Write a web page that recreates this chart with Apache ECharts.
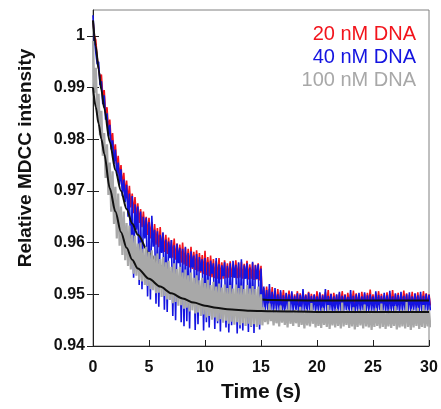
<!DOCTYPE html>
<html><head><meta charset="utf-8">
<script src="https://cdn.jsdelivr.net/npm/echarts@6/dist/echarts.min.js"></script>
<style>html,body{margin:0;padding:0;background:#fff}#chart{width:441px;height:409px}</style>
</head><body><div id="chart"></div>
<script>
// sampling step of the envelope arrays (s)
const timeStep = 0.25;

// 20 nM DNA trace: upper / lower extent of the noisy signal at each time step
const redHi = [
1.0030,0.9992,0.9958,0.9925,0.9895,0.9862,0.9838,0.9812,0.9790,0.9768,
0.9750,0.9735,0.9720,0.9710,0.9695,0.9688,0.9676,0.9665,0.9660,0.9650,
0.9648,0.9640,0.9636,0.9628,0.9630,0.9618,0.9615,0.9610,0.9605,0.9608,
0.9598,0.9596,0.9600,0.9590,0.9588,0.9592,0.9582,0.9585,0.9580,0.9576,
0.9584,0.9572,0.9575,0.9568,0.9565,0.9570,0.9562,0.9566,0.9560,0.9564,
0.9558,0.9566,0.9560,0.9563,0.9559,0.9565,0.9558,0.9561,0.9557,0.9560,
0.9555,0.9512,0.9515,0.9510,0.9514,0.9506,0.9510,0.9504,0.9508,0.9502,
0.9507,0.9503,0.9500,0.9506,0.9502,0.9504,0.9500,0.9505,0.9501,0.9499,
0.9506,0.9502,0.9500,0.9504,0.9508,0.9501,0.9503,0.9499,0.9502,0.9506,
0.9500,0.9503,0.9501,0.9507,0.9502,0.9499,0.9505,0.9501,0.9503,0.9509,
0.9500,0.9502,0.9506,0.9501,0.9498,0.9504,0.9502,0.9508,0.9500,0.9503,
0.9501,0.9507,0.9502,0.9499,0.9505,0.9501,0.9504,0.9500,0.9506,0.9502,
0.9500];
const redLo = [
1.0000,0.9958,0.9918,0.9882,0.9850,0.9820,0.9792,0.9768,0.9745,0.9725,
0.9708,0.9693,0.9680,0.9668,0.9657,0.9647,0.9638,0.9630,0.9622,0.9615,
0.9608,0.9602,0.9596,0.9591,0.9586,0.9582,0.9578,0.9574,0.9571,0.9567,
0.9564,0.9561,0.9558,0.9555,0.9552,0.9549,0.9547,0.9544,0.9542,0.9539,
0.9537,0.9535,0.9533,0.9531,0.9530,0.9529,0.9530,0.9531,0.9532,0.9533,
0.9532,0.9531,0.9532,0.9530,0.9531,0.9529,0.9530,0.9528,0.9529,0.9527,
0.9480,0.9478,0.9480,0.9477,0.9481,0.9478,0.9476,0.9480,0.9479,0.9477,
0.9481,0.9478,0.9480,0.9476,0.9479,0.9482,0.9477,0.9480,0.9478,0.9481,
0.9477,0.9479,0.9482,0.9478,0.9480,0.9476,0.9479,0.9481,0.9478,0.9480,
0.9477,0.9481,0.9479,0.9478,0.9482,0.9477,0.9480,0.9478,0.9481,0.9479,
0.9476,0.9480,0.9478,0.9481,0.9479,0.9477,0.9482,0.9478,0.9480,0.9477,
0.9481,0.9479,0.9478,0.9480,0.9476,0.9481,0.9479,0.9478,0.9482,0.9480,
0.9478];

// 40 nM DNA trace
const blueHi = [
1.0040,0.9990,0.9950,0.9912,0.9885,0.9850,0.9828,0.9798,0.9780,0.9755,
0.9742,0.9722,0.9712,0.9695,0.9690,0.9674,0.9670,0.9660,0.9650,0.9648,
0.9640,0.9652,0.9625,0.9622,0.9615,0.9620,0.9606,0.9602,0.9605,0.9595,
0.9598,0.9590,0.9588,0.9592,0.9580,0.9583,0.9575,0.9578,0.9572,0.9568,
0.9570,0.9562,0.9565,0.9560,0.9570,0.9558,0.9556,0.9562,0.9555,0.9560,
0.9565,0.9557,0.9562,0.9568,0.9556,0.9560,0.9552,0.9563,0.9556,0.9558,
0.9550,0.9515,0.9508,0.9520,0.9505,0.9512,0.9500,0.9508,0.9498,0.9503,
0.9500,0.9506,0.9497,0.9502,0.9499,0.9510,0.9498,0.9503,0.9497,0.9500,
0.9496,0.9504,0.9498,0.9510,0.9497,0.9501,0.9496,0.9500,0.9505,0.9497,
0.9499,0.9495,0.9508,0.9497,0.9500,0.9503,0.9496,0.9504,0.9498,0.9500,
0.9496,0.9506,0.9499,0.9497,0.9503,0.9498,0.9507,0.9496,0.9502,0.9499,
0.9505,0.9497,0.9500,0.9504,0.9496,0.9502,0.9498,0.9505,0.9497,0.9501,
0.9499];
const blueLo = [
0.9990,0.9945,0.9905,0.9868,0.9838,0.9806,0.9780,0.9752,0.9730,0.9712,
0.9690,0.9678,0.9650,0.9560,0.9532,0.9625,0.9518,0.9510,0.9608,0.9496,
0.9490,0.9592,0.9482,0.9476,0.9580,0.9470,0.9466,0.9570,0.9458,0.9450,
0.9560,0.9446,0.9438,0.9448,0.9434,0.9552,0.9431,0.9442,0.9545,0.9430,
0.9446,0.9436,0.9540,0.9433,0.9444,0.9428,0.9535,0.9436,0.9426,0.9440,
0.9532,0.9424,0.9434,0.9430,0.9530,0.9427,0.9437,0.9425,0.9530,0.9432,
0.9468,0.9468,0.9465,0.9470,0.9462,0.9467,0.9468,0.9458,0.9466,0.9469,
0.9464,0.9467,0.9470,0.9455,0.9466,0.9468,0.9463,0.9467,0.9469,0.9465,
0.9467,0.9460,0.9468,0.9466,0.9469,0.9463,0.9467,0.9468,0.9462,0.9466,
0.9469,0.9465,0.9467,0.9457,0.9468,0.9466,0.9469,0.9464,0.9467,0.9468,
0.9463,0.9466,0.9469,0.9465,0.9467,0.9460,0.9468,0.9466,0.9469,0.9464,
0.9467,0.9468,0.9462,0.9466,0.9469,0.9465,0.9467,0.9461,0.9468,0.9466,
0.9469];

// 100 nM DNA trace
const grayHi = [
0.9990,0.9938,0.9888,0.9855,0.9812,0.9790,0.9755,0.9738,0.9708,0.9695,
0.9670,0.9660,0.9638,0.9633,0.9615,0.9613,0.9598,0.9600,0.9588,0.9592,
0.9582,0.9585,0.9575,0.9579,0.9568,0.9572,0.9562,0.9565,0.9553,0.9560,
0.9549,0.9553,0.9542,0.9548,0.9537,0.9542,0.9532,0.9537,0.9527,0.9532,
0.9522,0.9528,0.9518,0.9524,0.9515,0.9521,0.9513,0.9519,0.9512,0.9518,
0.9511,0.9519,0.9512,0.9517,0.9510,0.9518,0.9511,0.9516,0.9510,0.9515,
0.9500,0.9475,0.9470,0.9482,0.9468,0.9472,0.9466,0.9478,0.9469,0.9471,
0.9486,0.9467,0.9470,0.9468,0.9476,0.9466,0.9471,0.9469,0.9483,0.9467,
0.9470,0.9468,0.9474,0.9466,0.9479,0.9469,0.9467,0.9472,0.9468,0.9484,
0.9466,0.9470,0.9468,0.9475,0.9467,0.9471,0.9469,0.9480,0.9466,0.9470,
0.9468,0.9473,0.9467,0.9482,0.9469,0.9466,0.9471,0.9468,0.9477,0.9466,
0.9470,0.9469,0.9485,0.9467,0.9471,0.9468,0.9474,0.9466,0.9479,0.9469,
0.9470];
const grayLo = [
0.9890,0.9850,0.9808,0.9768,0.9725,0.9692,0.9660,0.9636,0.9608,0.9594,
0.9576,0.9566,0.9555,0.9548,0.9540,0.9536,0.9528,0.9525,0.9518,0.9516,
0.9510,0.9508,0.9502,0.9503,0.9495,0.9497,0.9490,0.9489,0.9483,0.9485,
0.9478,0.9479,0.9472,0.9474,0.9467,0.9469,0.9463,0.9465,0.9458,0.9461,
0.9455,0.9458,0.9451,0.9455,0.9448,0.9452,0.9445,0.9449,0.9443,0.9447,
0.9441,0.9446,0.9440,0.9444,0.9439,0.9443,0.9438,0.9442,0.9437,0.9441,
0.9440,0.9446,0.9442,0.9448,0.9440,0.9444,0.9438,0.9445,0.9441,0.9436,
0.9443,0.9439,0.9444,0.9437,0.9441,0.9434,0.9440,0.9438,0.9443,0.9436,
0.9439,0.9435,0.9441,0.9437,0.9433,0.9440,0.9436,0.9439,0.9434,0.9438,
0.9441,0.9435,0.9438,0.9432,0.9437,0.9440,0.9434,0.9438,0.9436,0.9431,
0.9437,0.9439,0.9434,0.9437,0.9433,0.9438,0.9435,0.9439,0.9432,0.9436,
0.9438,0.9434,0.9437,0.9431,0.9436,0.9439,0.9433,0.9437,0.9435,0.9438,
0.9436];

// fitted curves (black)
const fitTime  = [0,0.25,0.5,0.75,1,1.5,2,2.5,3,3.5,4,5,6,7,8,9,10,11,12,14,16,20,25,30];
const upperFit = [1.0030,0.9980,0.9935,0.9895,0.9860,0.9795,0.9740,0.9700,0.9665,0.9637,0.9615,0.9580,0.9555,0.9537,0.9523,0.9513,0.9506,0.9500,0.9496,0.9491,0.9489,0.9488,0.9488,0.9488];
const lowerFit = [0.9900,0.9862,0.9830,0.9800,0.9772,0.9705,0.9660,0.9620,0.9590,0.9567,0.9550,0.9530,0.9515,0.9502,0.9492,0.9484,0.9478,0.9474,0.9471,0.9468,0.9467,0.9466,0.9466,0.9466];

const xTicks = [0,5,10,15,20,25,30];
const yTicks = [0.94,0.95,0.96,0.97,0.98,0.99,1];
const legendLabels = ['20 nM DNA','40 nM DNA','100 nM DNA'];
const colors = {red:'#f2141c', blue:'#1414e0', gray:'#a8a8a8', fit:'#111111'};

function trace(hi, lo){
  const d = [];
  for (let i = 0; i < hi.length; i++){
    const t = i * timeStep;
    d.push([t, hi[i]]);
    d.push([t + timeStep/2, lo[i]]);
  }
  return d;
}
function curve(ts, vs){ return ts.map((t,i)=>[t, vs[i]]); }

const FONT = "'Liberation Sans', Arial, Helvetica, sans-serif";
const isTick = v => yTicks.some(y => Math.abs(y - v) < 1e-7);

const chart = echarts.init(document.getElementById('chart'), null, {renderer:'canvas'});
const lineBase = {type:'line', showSymbol:false, symbol:'none', silent:true, animation:false, clip:true};

chart.setOption({
  animation:false,
  backgroundColor:'#fff',
  grid:{left:93, right:12, top:10, bottom:63, show:true, borderColor:'#808080', borderWidth:1, backgroundColor:'transparent'},
  xAxis:{
    type:'value', min:0, max:30, interval:5,
    axisLine:{show:true, onZero:false, lineStyle:{color:'#222', width:1}},
    axisTick:{show:true, inside:true, length:6, lineStyle:{color:'#222'}, customValues:xTicks},
    axisLabel:{margin:14, color:'#111', fontFamily:FONT, fontWeight:'bold', fontSize:16, customValues:xTicks},
    splitLine:{show:false},
    name:'Time (s)', nameLocation:'middle', nameGap:36,
    nameTextStyle:{color:'#111', fontFamily:FONT, fontWeight:'bold', fontSize:21}
  },
  yAxis:[{
    type:'value', min:0.94, max:1.005, interval:0.01,
    axisLine:{show:true, onZero:false, lineStyle:{color:'#222', width:1}},
    axisTick:{show:true, inside:false, length:6, lineStyle:{color:'#222'}, customValues:yTicks},
    axisLabel:{margin:8, color:'#111', fontFamily:FONT, fontWeight:'bold', fontSize:16, customValues:yTicks,
      formatter: v => isTick(v) ? String(+Number(v).toFixed(2)) : ''},
    splitLine:{show:false}
  },{
    type:'value', min:0.94, max:1.005, interval:0.01, position:'left',
    axisLine:{show:false},
    axisTick:{show:true, inside:true, length:6, lineStyle:{color:'#222'}, customValues:yTicks},
    axisLabel:{show:false},
    splitLine:{show:false}
  }],
  series:[
    Object.assign({}, lineBase, {name:legendLabels[0], data:trace(redHi, redLo), lineStyle:{color:colors.red, width:1.6}}),
    Object.assign({}, lineBase, {name:legendLabels[1], data:trace(blueHi, blueLo), lineStyle:{color:colors.blue, width:1.6}}),
    Object.assign({}, lineBase, {name:'fit 40 nM', data:curve(fitTime, upperFit), smooth:0.3, smoothMonotone:'x', lineStyle:{color:colors.fit, width:2}}),
    Object.assign({}, lineBase, {name:legendLabels[2], data:trace(grayHi, grayLo), lineStyle:{color:colors.gray, width:2.2}}),
    Object.assign({}, lineBase, {name:'fit 100 nM', data:curve(fitTime, lowerFit), smooth:0.3, smoothMonotone:'x', lineStyle:{color:colors.fit, width:2}})
  ],
  graphic:[
    {type:'text', x:26, y:158, rotation:Math.PI/2,
     style:{text:'Relative MDCC intensity', font:'bold 19px ' + FONT, fill:'#111',
            textAlign:'center', textVerticalAlign:'middle', align:'center', verticalAlign:'middle'}},
    {type:'text', x:416, y:34, style:{text:legendLabels[0], font:'20px ' + FONT, fill:colors.red, textAlign:'right', textVerticalAlign:'middle', align:'right', verticalAlign:'middle'}},
    {type:'text', x:416, y:57, style:{text:legendLabels[1], font:'20px ' + FONT, fill:colors.blue, textAlign:'right', textVerticalAlign:'middle', align:'right', verticalAlign:'middle'}},
    {type:'text', x:416, y:80, style:{text:legendLabels[2], font:'20px ' + FONT, fill:colors.gray, textAlign:'right', textVerticalAlign:'middle', align:'right', verticalAlign:'middle'}}
  ]
});
</script>
</body></html>
